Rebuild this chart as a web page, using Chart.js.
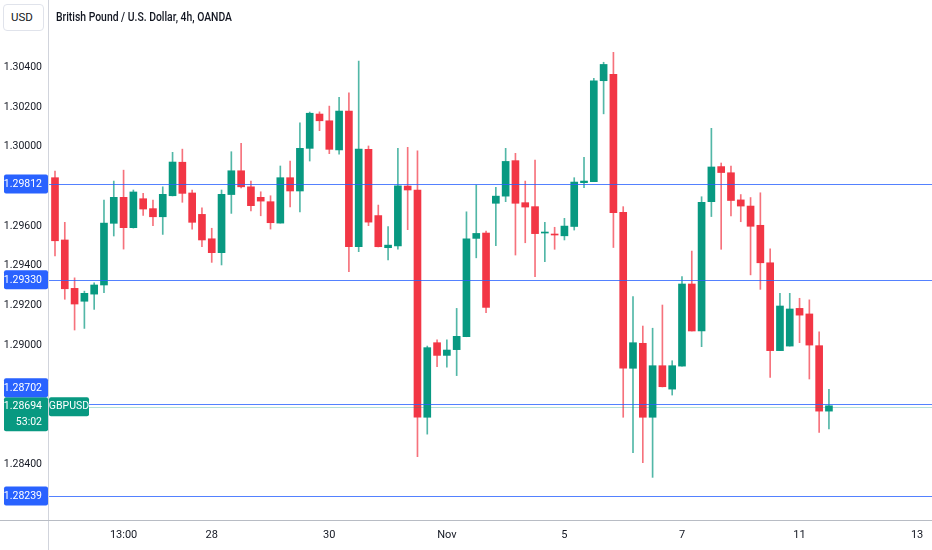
<!DOCTYPE html>
<html>
<head>
<meta charset="utf-8">
<script src="https://cdn.jsdelivr.net/npm/chart.js@4.4.0/dist/chart.umd.min.js"></script>
<style>
  html, body { margin: 0; padding: 0; background: #ffffff; }
  #wrap { position: relative; width: 932px; height: 550px; overflow: hidden; }
  #c { position: absolute; left: 0; top: 0; }
  .ff { font-family: "Roboto", "Liberation Sans", sans-serif; color: #131722; }
  #title { position: absolute; left: 56px; top: 9px; font-size: 13px; font-weight: 500; white-space: nowrap; transform-origin: 0 50%; }
  #usd { position: absolute; left: 3px; top: 4px; width: 41px; height: 27px; box-sizing: border-box;
         border: 1px solid #e0e3eb; border-radius: 4px; font-size: 11.5px; line-height: 25px; padding-left: 7px; background: #fff; }
</style>
</head>
<body>
<div id="wrap">
  <canvas id="c" width="932" height="550"></canvas>
  <div id="usd" class="ff">USD</div>
  <div id="title" class="ff">British Pound / U.S. Dollar, 4h, OANDA</div>
</div>
<script>
// ---- data (GBPUSD, 4h candles) ----
const opens = [1.29844,1.29530,1.29286,1.29221,1.29257,1.29303,1.29614,1.29745,1.29592,1.29738,
1.29688,1.29647,1.29753,1.29922,1.29767,1.29659,1.29536,1.29466,1.29759,1.29879,
1.29798,1.29745,1.29723,1.29615,1.29844,1.29777,1.29992,1.30165,1.30131,1.29984,
1.30180,1.29496,1.29987,1.29653,1.29491,1.29500,1.29802,1.29782,1.28636,1.29012,
1.28948,1.28977,1.29042,1.29538,1.29565,1.29715,1.29751,1.29930,1.29718,1.29698,
1.29565,1.29560,1.29551,1.29598,1.29819,1.29824,1.30333,1.30365,1.29669,1.28883,
1.29009,1.28636,1.28896,1.28778,1.28894,1.29308,1.29071,1.29723,1.29900,1.29869,
1.29732,1.29701,1.29604,1.29415,1.28972,1.28995,1.29185,1.29157,1.28997,1.28667];

const highs = [1.29877,1.29619,1.29339,1.29272,1.29314,1.29731,1.29827,1.29882,1.29782,1.29765,
1.29731,1.29798,1.29972,1.29988,1.29782,1.29692,1.29589,1.29782,1.29975,1.30017,
1.29827,1.29773,1.29753,1.29903,1.29928,1.30121,1.30175,1.30176,1.30205,1.30249,
1.30272,1.30432,1.30004,1.29706,1.29597,1.29992,1.29997,1.29980,1.28995,1.29026,
1.29026,1.29185,1.29672,1.29807,1.29575,1.29795,1.29992,1.29967,1.29827,1.29933,
1.29619,1.29594,1.29639,1.29844,1.29947,1.30345,1.30426,1.30476,1.29698,1.29244,
1.29096,1.29085,1.29202,1.28921,1.29345,1.29474,1.29748,1.30093,1.29918,1.29903,
1.29759,1.29744,1.29768,1.29485,1.29261,1.29261,1.29236,1.29228,1.29067,1.28777];

const lows = [1.29450,1.29231,1.29076,1.29084,1.29180,1.29264,1.29550,1.29484,1.29590,1.29654,
1.29602,1.29558,1.29752,1.29720,1.29584,1.29496,1.29417,1.29404,1.29664,1.29792,
1.29677,1.29652,1.29585,1.29615,1.29697,1.29671,1.29928,1.30081,1.29965,1.29962,
1.29370,1.29471,1.29602,1.29495,1.29429,1.29483,1.29582,1.28437,1.28551,1.28891,
1.28888,1.28846,1.29042,1.29440,1.29163,1.29501,1.29723,1.29454,1.29516,1.29345,
1.29420,1.29483,1.29530,1.29580,1.29794,1.29824,1.30166,1.29492,1.28636,1.28457,
1.28407,1.28333,1.28789,1.28748,1.28894,1.29071,1.28992,1.29648,1.29483,1.29651,
1.29622,1.29354,1.29281,1.28837,1.28972,1.28995,1.29012,1.28829,1.28560,1.28577];

const closes = [1.29526,1.29284,1.29207,1.29261,1.29303,1.29615,1.29745,1.29592,1.29772,1.29686,
1.29647,1.29760,1.29923,1.29765,1.29619,1.29530,1.29466,1.29760,1.29879,1.29798,
1.29703,1.29726,1.29617,1.29844,1.29777,1.29992,1.30169,1.30131,1.29987,1.30180,
1.29496,1.29988,1.29620,1.29496,1.29504,1.29803,1.29782,1.28636,1.28987,1.28948,
1.28975,1.29044,1.29536,1.29563,1.29190,1.29751,1.29926,1.29715,1.29696,1.29562,
1.29570,1.29555,1.29600,1.29822,1.29827,1.30333,1.30415,1.29668,1.28883,1.29012,
1.28636,1.28896,1.28790,1.28896,1.29308,1.29071,1.29720,1.29898,1.29870,1.29729,
1.29701,1.29599,1.29415,1.28972,1.29197,1.29182,1.29151,1.29000,1.28667,1.28694];

// x axis: candle index positions of the date labels
const xTickPos    = [7, 16, 28, 40, 52, 64, 76, 88];
const xTickLabels = ['13:00', '28', '30', 'Nov', '5', '7', '11', '13'];
// y axis price labels (those hidden behind the level badges are left out)
const yTickPos    = [1.304, 1.302, 1.300, 1.296, 1.294, 1.292, 1.290, 1.284];
const yTickLabels = ['1.30400','1.30200','1.30000','1.29600','1.29400','1.29200','1.29000','1.28400'];
// horizontal levels drawn on the chart
const hLevels = [1.29812, 1.29330, 1.28702, 1.28239];
const hLevelLabels = ['1.29812', '1.29330', '1.28702', '1.28239'];
const symbol = 'GBPUSD';
const countdown = '53:02';
const lastPriceLabel = '1.28694';

// ---- styling ----
const UP = '#089981', DOWN = '#f23645';
const UP_W = 'rgba(8,153,129,0.7)', DOWN_W = 'rgba(242,54,69,0.7)';
const FONT = '"Roboto", "Liberation Sans", sans-serif';
const TEXT = '#131722';

// fit the title to the width it has in the reference
(function () {
  const t = document.getElementById('title');
  const w = t.getBoundingClientRect().width;
  if (w > 0) t.style.transform = 'scaleX(' + (176 / w) + ')';
})();

const bodies = opens.map((o, i) => ({ x: i, y: [o, closes[i]] }));
const wicks  = lows.map((l, i) => ({ x: i, y: [l, highs[i]] }));
const isUp = i => closes[i] >= opens[i];

const overlay = {
  id: 'overlay',
  afterDatasetsDraw(chart) {
    const { ctx, chartArea: a, scales: { y } } = chart;
    ctx.save();
    ctx.lineWidth = 1;
    ctx.strokeStyle = 'rgba(41,98,255,0.8)';
    hLevels.forEach(v => {
      const py = Math.round(y.getPixelForValue(v)) + 0.5;
      ctx.beginPath(); ctx.moveTo(a.left, py); ctx.lineTo(a.right, py); ctx.stroke();
    });
    const last = closes[closes.length - 1];
    const lp = Math.round(y.getPixelForValue(last)) + 0.5;
    ctx.strokeStyle = 'rgba(8,153,129,0.3)';
    ctx.beginPath(); ctx.moveTo(a.left, lp + 1); ctx.lineTo(a.right, lp + 1); ctx.stroke();
    ctx.restore();
  },
  afterDraw(chart) {
    const { ctx, chartArea: a, scales: { y } } = chart;
    ctx.save();
    ctx.strokeStyle = '#d1d4dc';
    ctx.lineWidth = 1;
    ctx.beginPath(); ctx.moveTo(a.left + 0.5, 0); ctx.lineTo(a.left + 0.5, chart.height); ctx.stroke();
    ctx.strokeStyle = '#b8bcc4';
    ctx.beginPath(); ctx.moveTo(0, a.bottom + 0.5); ctx.lineTo(chart.width, a.bottom + 0.5); ctx.stroke();

    const bx = 4, bw = a.left - 4, bh = 19;
    ctx.font = '10.5px ' + FONT;
    ctx.textAlign = 'right';
    ctx.textBaseline = 'middle';
    function rr(x, yy, w, h, r) { ctx.beginPath(); ctx.roundRect(x, yy, w, h, r); ctx.fill(); }
    const last = closes[closes.length - 1];
    const lp = y.getPixelForValue(last);
    const pTop = lp - 8.5, pH = 34;
    ctx.fillStyle = UP;
    rr(bx, pTop, bw, pH, 2);
    ctx.fillStyle = '#ffffff';
    ctx.fillText(lastPriceLabel, a.left - 6, pTop + 9.5);
    ctx.fillText(countdown, a.left - 6, pTop + 25);
    ctx.fillStyle = UP;
    rr(a.left + 1, pTop, 40, 19, 2);
    ctx.fillStyle = '#ffffff';
    ctx.textAlign = 'center';
    ctx.fillText(symbol, a.left + 21, pTop + 9.5);
    ctx.textAlign = 'right';
    hLevels.forEach((v, i) => {
      let top = y.getPixelForValue(v) - bh / 2;
      if (top + bh > pTop && top < pTop + pH) top = pTop - bh;
      ctx.fillStyle = '#2962ff';
      rr(bx, top, bw, bh, 2);
      ctx.fillStyle = '#ffffff';
      ctx.fillText(hLevelLabels[i], a.left - 6, top + bh / 2 + 0.5);
    });
    ctx.restore();
  }
};

new Chart(document.getElementById('c'), {
  type: 'bar',
  data: {
    datasets: [
      { data: bodies, backgroundColor: c => isUp(c.dataIndex) ? UP : DOWN,
        barThickness: 7, minBarLength: 1, borderWidth: 0, borderSkipped: false, grouped: false },
      { data: wicks, backgroundColor: c => isUp(c.dataIndex) ? UP_W : DOWN_W,
        barThickness: 1, borderWidth: 0, borderSkipped: false, grouped: false }
    ]
  },
  options: {
    responsive: false,
    animation: false,
    events: [],
    layout: { padding: 0 },
    plugins: { legend: { display: false }, tooltip: { enabled: false }, title: { display: false } },
    scales: {
      x: {
        type: 'linear', min: -0.714, max: 89.52, offset: false,
        grid: { display: false, drawTicks: false },
        border: { display: false },
        afterBuildTicks: s => { s.ticks = xTickPos.map(v => ({ value: v })); },
        afterFit: s => { s.height = 30; s.paddingLeft = 0; s.paddingRight = 0; s.paddingTop = 0; s.paddingBottom = 0; },
        ticks: { autoSkip: false, maxRotation: 0, padding: 9, color: TEXT,
                 font: { family: FONT, size: 11 }, callback: (v, i) => xTickLabels[i] }
      },
      y: {
        type: 'linear', position: 'left', min: 1.28118, max: 1.30740,
        grid: { display: false, drawTicks: false },
        border: { display: false },
        afterBuildTicks: s => { s.ticks = yTickPos.map(v => ({ value: v })); },
        afterFit: s => { s.width = 48; s.paddingLeft = 0; s.paddingRight = 0; s.paddingTop = 0; s.paddingBottom = 0; },
        ticks: { autoSkip: false, padding: 6, color: TEXT,
                 font: { family: FONT, size: 10.5 }, callback: (v, i) => yTickLabels[i] }
      }
    }
  },
  plugins: [overlay]
});
</script>
</body>
</html>
